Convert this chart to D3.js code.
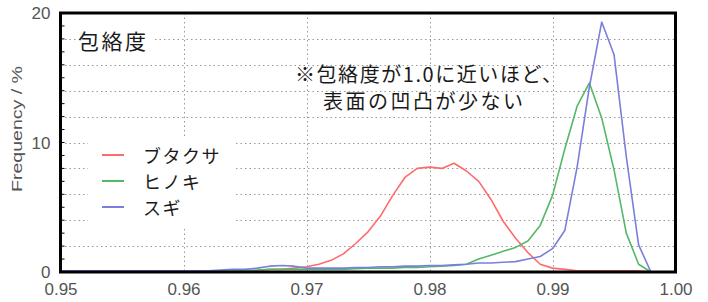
<!DOCTYPE html>
<html>
<head>
<meta charset="utf-8">
<script src="https://cdn.jsdelivr.net/npm/d3@7"></script>
<style>
  body { margin: 0; background: #fff; }
  svg { display: block; }
  .tick text { font-family: "Liberation Sans", Arial, sans-serif; font-size: 17px; fill: #555; }
  .jp { font-family: "Noto Sans CJK JP", sans-serif; fill: #1a1a1a; }
</style>
</head>
<body>
<svg width="708" height="302"></svg>
<script>
// envelope ratio classes (x) and frequency in % for each pollen
const envelope = [
  0.950, 0.951, 0.952, 0.953, 0.954, 0.955, 0.956, 0.957, 0.958, 0.959,
  0.960, 0.961, 0.962, 0.963, 0.964, 0.965, 0.966, 0.967, 0.968, 0.969,
  0.970, 0.971, 0.972, 0.973, 0.974, 0.975, 0.976, 0.977, 0.978, 0.979,
  0.980, 0.981, 0.982, 0.983, 0.984, 0.985, 0.986, 0.987, 0.988, 0.989,
  0.990, 0.991, 0.992, 0.993, 0.994, 0.995, 0.996, 0.997, 0.998
];
const butakusa = [
  0.1, 0.1, 0.1, 0.1, 0.1, 0.1, 0.1, 0.1, 0.1, 0.1,
  0.1, 0.1, 0.1, 0.1, 0.1, 0.1, 0.1, 0.2, 0.2, 0.3,
  0.4, 0.6, 0.9, 1.4, 2.2, 3.1, 4.3, 5.9, 7.3, 8.0,
  8.1, 8.0, 8.4, 7.8, 7.0, 5.6, 3.9, 2.6, 1.5, 0.6,
  0.3, 0.2, 0.1, 0.1, 0.1, 0.1, 0.1, 0.1, 0.0
];
const hinoki = [
  0.1, 0.1, 0.1, 0.1, 0.1, 0.1, 0.1, 0.1, 0.1, 0.1,
  0.1, 0.1, 0.1, 0.1, 0.1, 0.1, 0.15, 0.2, 0.2, 0.2,
  0.2, 0.2, 0.2, 0.2, 0.25, 0.3, 0.3, 0.3, 0.35, 0.35,
  0.4, 0.45, 0.5, 0.6, 1.0, 1.3, 1.6, 1.9, 2.4, 3.6,
  5.9, 9.5, 12.8, 14.6, 11.9, 7.9, 3.0, 0.6, 0.0
];
const sugi = [
  0.1, 0.1, 0.1, 0.1, 0.1, 0.1, 0.1, 0.1, 0.1, 0.1,
  0.1, 0.1, 0.1, 0.15, 0.2, 0.2, 0.3, 0.45, 0.5, 0.45,
  0.3, 0.3, 0.3, 0.3, 0.35, 0.35, 0.4, 0.4, 0.45, 0.45,
  0.5, 0.5, 0.55, 0.6, 0.7, 0.7, 0.75, 0.8, 1.0, 1.2,
  1.8, 3.2, 8.1, 14.3, 19.3, 16.8, 8.9, 2.1, 0.0
];
const seriesNames = ["ブタクサ", "ヒノキ", "スギ"];
const seriesColors = ["#ff6b6b", "#55b868", "#7b7edb"];
const xTicks = [0.95, 0.96, 0.97, 0.98, 0.99, 1.00];
const yTicks = [0, 10, 20];

const svg = d3.select("svg");

const x = d3.scaleLinear().domain([0.95, 1.0]).range([60.5, 675.5]);
const y = d3.scaleLinear().domain([0, 20]).range([272, 13]);

// dotted grid
svg.append("g")
    .selectAll("line")
    .data(d3.range(2, 20, 2))
    .enter().append("line")
    .attr("x1", x(0.95)).attr("x2", x(1.0))
    .attr("y1", d => Math.round(y(d)) + 0.5).attr("y2", d => Math.round(y(d)) + 0.5)
    .attr("stroke", "#999").attr("stroke-dasharray", "1.5,3");

svg.append("g")
    .selectAll("line")
    .data(xTicks.slice(1, -1))
    .enter().append("line")
    .attr("x1", d => Math.round(x(d)) + 0.5).attr("x2", d => Math.round(x(d)) + 0.5)
    .attr("y1", y(20)).attr("y2", y(0))
    .attr("stroke", "#999").attr("stroke-dasharray", "1.5,3");

// white boxes under the title and the legend
svg.append("rect").attr("x", 76).attr("y", 28).attr("width", 78).attr("height", 24).attr("fill", "#fff");
svg.append("rect").attr("x", 88).attr("y", 136).attr("width", 148).attr("height", 92).attr("fill", "#fff");

// minor ticks on the left frame
svg.append("g")
    .selectAll("line")
    .data(d3.range(1, 20))
    .enter().append("line")
    .attr("x1", x(0.95)).attr("x2", x(0.95) + 4)
    .attr("y1", d => y(d)).attr("y2", d => y(d))
    .attr("stroke", "#000").attr("stroke-width", 1);

// curves
const line = d3.line()
    .x((d, i) => x(envelope[i]))
    .y(d => y(d));

[butakusa, hinoki, sugi].forEach((vals, i) => {
  svg.append("path")
      .datum(vals)
      .attr("fill", "none")
      .attr("stroke", seriesColors[i])
      .attr("stroke-width", 1.6)
      .attr("stroke-linejoin", "round")
      .attr("d", line);
});

// frame
svg.append("rect")
    .attr("x", x(0.95)).attr("y", y(20))
    .attr("width", x(1.0) - x(0.95)).attr("height", y(0) - y(20))
    .attr("fill", "none").attr("stroke", "#000").attr("stroke-width", 3);

// axes
const xAxis = svg.append("g")
    .attr("transform", `translate(0,${y(0)})`)
    .call(d3.axisBottom(x).tickValues(xTicks).tickFormat(d3.format(".2f")).tickSize(0).tickPadding(11));
xAxis.select(".domain").remove();

const yAxis = svg.append("g")
    .attr("transform", `translate(${x(0.95)},0)`)
    .call(d3.axisLeft(y).tickValues(yTicks).tickSize(0).tickPadding(10));
yAxis.select(".domain").remove();
yAxis.selectAll(".tick text").attr("dy", "0.35em");

svg.append("text")
    .attr("transform", "translate(22,129) rotate(-90)")
    .attr("text-anchor", "middle")
    .attr("textLength", 126)
    .attr("lengthAdjust", "spacingAndGlyphs")
    .style("font-family", "Liberation Sans, Arial, sans-serif")
    .style("font-size", "15px")
    .style("fill", "#555")
    .text("Frequency / %");

// title and note
svg.append("text").attr("class", "jp")
    .attr("x", 78).attr("y", 40)
    .attr("dominant-baseline", "central")
    .style("font-size", "21px")
    .style("letter-spacing", "2.5px")
    .text("包絡度");

svg.append("text").attr("class", "jp")
    .attr("x", 295).attr("y", 73)
    .attr("dominant-baseline", "central")
    .attr("textLength", 267)
    .attr("lengthAdjust", "spacing")
    .style("font-size", "20px")
    .text("※包絡度が1.0に近いほど、");

svg.append("text").attr("class", "jp")
    .attr("x", 323).attr("y", 100)
    .attr("dominant-baseline", "central")
    .attr("textLength", 200)
    .attr("lengthAdjust", "spacing")
    .style("font-size", "20px")
    .text("表面の凹凸が少ない");

// legend
const legend = svg.append("g")
    .selectAll("g")
    .data(seriesNames)
    .enter().append("g")
    .attr("transform", (d, i) => `translate(0,${155 + i * 26})`);

legend.append("line")
    .attr("x1", 102).attr("x2", 124)
    .attr("stroke", (d, i) => seriesColors[i])
    .attr("stroke-width", 2);

legend.append("text").attr("class", "jp")
    .attr("x", 143)
    .attr("dominant-baseline", "central")
    .style("font-size", "18px")
    .style("letter-spacing", "1.5px")
    .text(d => d);
</script>
</body>
</html>
